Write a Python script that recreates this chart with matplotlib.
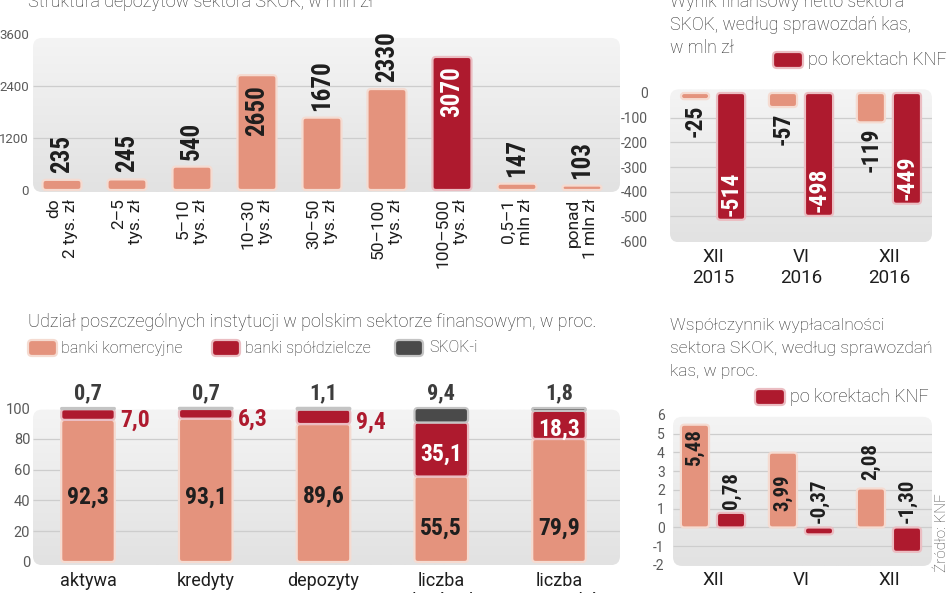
import matplotlib
matplotlib.use("Agg")
import matplotlib.pyplot as plt
import numpy as np
from matplotlib import font_manager
from matplotlib.patches import FancyBboxPatch
from matplotlib.colors import LinearSegmentedColormap

plt.rcParams["font.family"] = ["Roboto", "DejaVu Sans"]

# condensed bold face for the numbers, if one is installed
NUM, NUM_STRETCH, NUM_SCALE = ["Roboto", "DejaVu Sans"], "normal", 0.82
_cond = {}
for f in font_manager.fontManager.ttflist:
    if f.stretch in ("condensed", "semi-condensed", "extra-condensed") and f.weight in (600, 700, 800, "bold"):
        _cond.setdefault(f.name, f.stretch)
for cand in ["Liberation Sans Narrow", "Roboto Condensed", "DejaVu Sans", "Open Sans", "Noto Sans", "Inter"]:
    if cand in _cond:
        NUM, NUM_STRETCH, NUM_SCALE = [cand, "DejaVu Sans"], _cond[cand], 1.0
        break
if NUM_STRETCH == "normal":
    for f in font_manager.fontManager.ttflist:
        if f.name == "Liberation Sans Narrow":
            NUM, NUM_SCALE = ["Liberation Sans Narrow", "DejaVu Sans"], 1.0
            break

# Struktura depozytów sektora SKOK, w mln zł
dep_labels = ["do\n2 tys. zł", "2–5\ntys. zł", "5–10\ntys. zł", "10–30\ntys. zł",
              "30–50\ntys. zł", "50–100\ntys. zł", "100–500\ntys. zł",
              "0,5–1\nmln zł", "ponad\n1 mln zł"]
dep_values = [235, 245, 540, 2650, 1670, 2330, 3070, 147, 103]
dep_ticks = [0, 1200, 2400, 3600]

# Wynik finansowy netto sektora SKOK, w mln zł
periods = ["XII\n2015", "VI\n2016", "XII\n2016"]
wynik_kas = [-25, -57, -119]
wynik_knf = [-514, -498, -449]
wynik_ticks = [0, -100, -200, -300, -400, -500, -600]

# Udział poszczególnych instytucji w sektorze finansowym, w proc.
inst_cats = ["aktywa", "kredyty", "depozyty", "liczba\nplacówek", "liczba\npracowników"]
banki_kom = [92.3, 93.1, 89.6, 55.5, 79.9]
banki_spo = [7.0, 6.3, 9.4, 35.1, 18.3]
skoki = [0.7, 0.7, 1.1, 9.4, 1.8]
inst_ticks = [0, 20, 40, 60, 80, 100]

# Współczynnik wypłacalności sektora SKOK, w proc.
wsp_kas = [5.48, 3.99, 2.08]
wsp_knf = [0.78, -0.37, -1.30]
wsp_ticks = [6, 5, 4, 3, 2, 1, 0, -1, -2]

SALMON = "#E4937D"
DARK = "#AE1A2E"
GREY = "#4A4A4A"
E_SAL = "#F5DBD1"
E_DARK = "#EBBDC2"
E_GREY = "#C4C4C4"
TXT = "#1e1e1e"
TICK = "#5a5a5a"
bg_cmap = LinearSegmentedColormap.from_list("bg", ["#E2E2E2", "#F4F4F4"])

W, H = 948, 593
fig = plt.figure(figsize=(W / 100, H / 100), dpi=100)


def num_kw(size):
    return dict(fontsize=size * NUM_SCALE, fontweight="bold", family=NUM, fontstretch=NUM_STRETCH)


def px_axes(l, t, r, b):
    ax = fig.add_axes([l / W, 1 - b / H, (r - l) / W, (b - t) / H])
    for s in ax.spines.values():
        s.set_visible(False)
    ax.set_facecolor("none")
    ax.tick_params(length=0, colors=TICK, labelsize=10)
    return ax


def px_scale(ax):
    x0, x1 = ax.get_xlim()
    lo, hi = ax.get_ylim()
    bb = ax.get_position()
    return bb.width * W / (x1 - x0), bb.height * H / (hi - lo)


def panel_bg(ax, y0, y1, grid, r=9):
    x0, x1 = ax.get_xlim()
    lo, hi = ax.get_ylim()
    ppx, ppy = px_scale(ax)
    box = FancyBboxPatch((x0, y0), x1 - x0, y1 - y0,
                         boxstyle=f"round,pad=0,rounding_size={r / ppx}",
                         mutation_aspect=ppx / ppy, fc="none", ec="none", zorder=0)
    ax.add_patch(box)
    grad = np.linspace(0, 1, 64).reshape(-1, 1)
    im = ax.imshow(grad, extent=(x0, x1, y0, y1), origin="lower", cmap=bg_cmap,
                   aspect="auto", zorder=0)
    im.set_clip_path(box)
    ax.hlines(grid, x0, x1, color="#cdcdcd", lw=0.9, zorder=1)
    ax.set_xlim(x0, x1)
    ax.set_ylim(lo, hi)


def round_bars(ax, bars, r=3.5):
    # swap the square bar rectangles for rounded ones of the same size
    ppx, ppy = px_scale(ax)
    for p in bars:
        h = p.get_height()
        y = min(p.get_y(), p.get_y() + h)
        hh = abs(h)
        rr = min(r / ppx, p.get_width() / 2, hh * ppy / ppx / 2)
        ax.add_patch(FancyBboxPatch((p.get_x(), y), p.get_width(), hh,
                                    boxstyle=f"round,pad=0,rounding_size={rr}",
                                    mutation_aspect=ppx / ppy, fc=p.get_facecolor(),
                                    ec=p.get_edgecolor(), lw=p.get_linewidth(),
                                    zorder=p.get_zorder()))
        p.set_visible(False)


def fmt(v, d):
    return f"{v:.{d}f}".replace(".", ",")


# ---- panel 1: struktura depozytów
ax1 = px_axes(33, 30, 620, 193)
x = np.arange(len(dep_values))
ax1.set_xlim(-0.446, 8.585)
ax1.set_ylim(-69, 3692)
panel_bg(ax1, -46, 3508, [1200, 2400])
cols = [DARK if i == 6 else SALMON for i in x]
edges = [E_DARK if i == 6 else E_SAL for i in x]
b = ax1.bar(x, dep_values, width=0.6, color=cols, edgecolor=edges, linewidth=1.6, zorder=2)
round_bars(ax1, b)
ax1.set_yticks(dep_ticks, [str(t) for t in dep_ticks])
ax1.tick_params(axis="y", pad=3, labelsize=9.5)
ax1.set_xticks(x, dep_labels, rotation=90, multialignment="right", fontsize=12.5, color=TXT)
ax1.tick_params(axis="x", pad=4)
for i, v in enumerate(dep_values):
    inside = v > 2500
    ax1.annotate(str(v), (i, v), xytext=(0, -7 if inside else 5), textcoords="offset points",
                 rotation=90, ha="center", va="top" if inside else "bottom",
                 color="white" if i == 6 else TXT, zorder=3, **num_kw(18))

# ---- panel 2: wynik finansowy netto
ax2 = px_axes(670, 85, 932, 245)
g = np.arange(len(periods))
ax2.set_xlim(-0.49, 2.49)
ax2.set_ylim(-616, 32.4)
panel_bg(ax2, -605, 15, [-100, -200, -300, -400, -500])
off, bw = 0.205, 0.32
b = ax2.bar(g - off, wynik_kas, bw, color=SALMON, edgecolor=E_SAL, linewidth=1.6, zorder=2)
round_bars(ax2, b)
b = ax2.bar(g + off, wynik_knf, bw, color=DARK, edgecolor=E_DARK, linewidth=1.6, zorder=2)
round_bars(ax2, b)
ax2.set_yticks(wynik_ticks, [str(t) for t in wynik_ticks])
ax2.tick_params(axis="y", pad=16)
ax2.set_xticks(g, periods, fontsize=13.5, color=TXT)
ax2.tick_params(axis="x", pad=2)
for i, v in enumerate(wynik_kas):
    ax2.annotate(str(v), (i - off, v), xytext=(0, -4), textcoords="offset points",
                 rotation=90, ha="center", va="top", color=TXT, zorder=3, **num_kw(17))
for i, v in enumerate(wynik_knf):
    ax2.annotate(str(v), (i + off, v), xytext=(0, 3), textcoords="offset points",
                 rotation=90, ha="center", va="bottom", color="white", zorder=3, **num_kw(17))

# ---- panel 3: udział instytucji
ax3 = px_axes(33, 380, 620, 566)
c = np.arange(len(inst_cats))
ax3.set_xlim(-0.467, 4.518)
ax3.set_ylim(-2.6, 118.2)
panel_bg(ax3, -2, 99, [20, 40, 60, 80])
kom = np.array(banki_kom)
spo = np.array(banki_spo)
sk = np.array(skoki)
w3 = 0.455
b = ax3.bar(c, kom, w3, color=SALMON, edgecolor=E_SAL, linewidth=1.6, zorder=2)
round_bars(ax3, b)
b = ax3.bar(c, spo, w3, bottom=kom, color=DARK, edgecolor=E_DARK, linewidth=1.6, zorder=2)
round_bars(ax3, b)
b = ax3.bar(c, sk, w3, bottom=kom + spo, color=GREY, edgecolor=E_GREY, linewidth=1.6, zorder=2)
round_bars(ax3, b)
ax3.set_yticks(inst_ticks, [str(t) for t in inst_ticks])
ax3.tick_params(axis="y", pad=2, labelsize=10.5)
ax3.set_xticks(c, inst_cats, fontsize=13, color=TXT)
ax3.tick_params(axis="x", pad=4)
kom_label_y = [42, 42, 43, 22, 22]
for i in c:
    ax3.text(i, kom_label_y[i], fmt(kom[i], 1), ha="center", va="center",
             color=TXT, zorder=3, **num_kw(17))
    if spo[i] > 15:
        ax3.text(i, kom[i] + spo[i] / 2 - 3, fmt(spo[i], 1), ha="center", va="center",
                 color="white", zorder=3, **num_kw(17))
    else:
        ax3.annotate(fmt(spo[i], 1), (i + w3 / 2, kom[i] + spo[i] / 2 - 3.5), xytext=(4, 0),
                     textcoords="offset points", ha="left", va="center",
                     color=DARK, zorder=3, **num_kw(17))
    ax3.annotate(fmt(sk[i], 1), (i, 100), xytext=(0, 3), textcoords="offset points",
                 ha="center", va="bottom", color="#3c3c3c", zorder=3, **num_kw(16))

# ---- panel 4: współczynnik wypłacalności
ax4 = px_axes(673, 405, 932, 568)
ax4.set_xlim(-0.4545, 2.489)
ax4.set_ylim(-2.16, 6.53)
panel_bg(ax4, -2.05, 5.9, [5, 4, 3, 2, 1, 0, -1])
b = ax4.bar(g - off, wsp_kas, bw, color=SALMON, edgecolor=E_SAL, linewidth=1.6, zorder=2)
round_bars(ax4, b)
b = ax4.bar(g + off, wsp_knf, bw, color=DARK, edgecolor=E_DARK, linewidth=1.6, zorder=2)
round_bars(ax4, b)
ax4.set_yticks(wsp_ticks, [str(t) for t in wsp_ticks])
ax4.tick_params(axis="y", pad=6)
ax4.set_xticks(g, periods, fontsize=13.5, color=TXT)
ax4.tick_params(axis="x", pad=2)
wsp_kas_label_y = [4.27, 1.87, 3.52]
for i, v in enumerate(wsp_kas):
    ax4.text(i - off, wsp_kas_label_y[i], fmt(v, 2), rotation=90, ha="center", va="center",
             color=TXT, zorder=3, **num_kw(15))
for i, v in enumerate(wsp_knf):
    ax4.annotate(fmt(v, 2), (i + off, max(v, 0)), xytext=(0, 3), textcoords="offset points",
                 rotation=90, ha="center", va="bottom", color=TXT, zorder=3, **num_kw(15))

# ---- titles and legends (pixel overlay)
ov = fig.add_axes([0, 0, 1, 1])
ov.set_xlim(0, W)
ov.set_ylim(H, 0)
ov.axis("off")


def lines(xp, y0, txt, step, size):
    for k, line in enumerate(txt):
        ov.text(xp, y0 + k * step, line, ha="left", va="baseline", fontsize=size,
                color="#2a2a2a", fontweight="light")


def legend_box(x0, y0, x1, y1, fc, ec):
    ov.add_patch(FancyBboxPatch((x0, y0), x1 - x0, y1 - y0,
                                boxstyle="round,pad=0,rounding_size=4",
                                fc=fc, ec=ec, lw=1.6))


lines(28, 7, ["Struktura depozytów sektora SKOK, w mln zł"], 0, 13)
lines(670, 7, ["Wynik finansowy netto sektora", "SKOK, według sprawozdań kas,", "w mln zł"], 23, 12.8)
legend_box(773, 52, 803, 68, DARK, E_DARK)
ov.text(808, 60, "po korektach KNF", va="center", fontsize=13, color="#2a2a2a", fontweight="light")

lines(28, 327, ["Udział poszczególnych instytucji w polskim sektorze finansowym, w proc."], 0, 13)
legend_box(28, 340, 57, 356, SALMON, E_SAL)
ov.text(61, 348, "banki komercyjne", va="center", fontsize=11.5, color="#2a2a2a", fontweight="light")
legend_box(212, 340, 240, 356, DARK, E_DARK)
ov.text(245, 348, "banki spółdzielcze", va="center", fontsize=11.5, color="#2a2a2a", fontweight="light")
legend_box(395, 340, 423, 356, GREY, E_GREY)
ov.text(429, 348, "SKOK-i", va="center", fontsize=11.5, color="#2a2a2a", fontweight="light")

lines(670, 330, ["Współczynnik wypłacalności", "sektora SKOK, według sprawozdań", "kas, w proc."], 23, 12.5)
legend_box(755, 389, 785, 405, DARK, E_DARK)
ov.text(790, 397, "po korektach KNF", va="center", fontsize=13, color="#2a2a2a", fontweight="light")

ov.text(942, 493, "Źródło: KNF", rotation=90, ha="center", va="top", fontsize=11,
        color="#444444", fontweight="light")

fig.savefig("out.png", dpi=100, facecolor="white")
